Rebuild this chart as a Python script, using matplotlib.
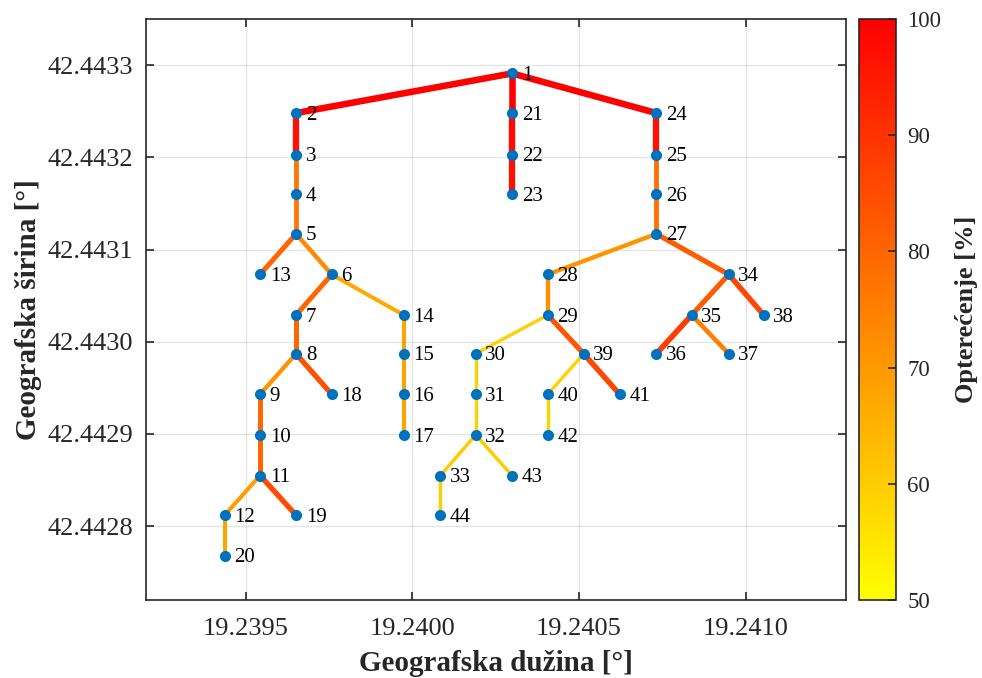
import numpy as np
import matplotlib
matplotlib.use("Agg")
import matplotlib.pyplot as plt
from matplotlib.ticker import FixedLocator, FormatStrFormatter
from matplotlib.colors import Normalize
from matplotlib.cm import ScalarMappable

plt.rcParams['font.family'] = ['Liberation Serif', 'DejaVu Serif']

# node coordinates (node id = index + 1)
node_lon = [19.240299, 19.239651, 19.239651, 19.239651, 19.239651, 19.239758, 19.239651,
            19.239651, 19.239543, 19.239543, 19.239543, 19.239437, 19.239543, 19.239974,
            19.239974, 19.239974, 19.239974, 19.239758, 19.239651, 19.239437, 19.240299,
            19.240299, 19.240299, 19.240732, 19.240732, 19.240732, 19.240732, 19.240406,
            19.240406, 19.240190, 19.240190, 19.240190, 19.240084, 19.240949, 19.240838,
            19.240732, 19.240949, 19.241054, 19.240514, 19.240406, 19.240622, 19.240406,
            19.240299, 19.240084]
node_lat = [42.443291, 42.443248, 42.443203, 42.443160, 42.443117, 42.443073, 42.443029,
            42.442987, 42.442943, 42.442899, 42.442855, 42.442812, 42.443073, 42.443029,
            42.442987, 42.442943, 42.442899, 42.442943, 42.442812, 42.442768, 42.443248,
            42.443203, 42.443160, 42.443248, 42.443203, 42.443160, 42.443117, 42.443073,
            42.443029, 42.442987, 42.442943, 42.442899, 42.442855, 42.443073, 42.443029,
            42.442987, 42.442987, 42.443029, 42.442987, 42.442943, 42.442943, 42.442899,
            42.442855, 42.442812]

# branches and their loading [%]
branch_from = [1, 2, 3, 4, 5, 5, 6, 6, 7, 8, 8, 9, 10, 11, 11, 12, 14, 15, 16,
               1, 21, 22, 1, 24, 25, 26, 27, 27, 28, 29, 29, 30, 31, 32, 32, 33,
               39, 39, 40, 34, 34, 35, 35]
branch_to = [2, 3, 4, 5, 13, 6, 7, 14, 8, 9, 18, 10, 11, 12, 19, 20, 15, 16, 17,
             21, 22, 23, 24, 25, 26, 27, 28, 34, 29, 30, 39, 31, 32, 33, 43, 44,
             40, 41, 42, 35, 38, 36, 37]
loading = [100, 97, 77, 77, 80, 73, 80, 67, 80, 71, 84, 80, 80, 69, 85, 68, 68, 68, 68,
           100, 98, 97, 100, 97, 78, 78, 71, 82, 72, 59, 83, 59, 59, 60, 60, 60,
           59, 86, 59, 82, 86, 88, 75]

cmap = plt.get_cmap("autumn_r")
norm = Normalize(vmin=50, vmax=100)

fig = plt.figure(figsize=(9.82, 6.78), dpi=100)
W, H = 982, 678
ax = fig.add_axes([145.7 / W, 1 - 600 / H, (845.7 - 145.7) / W, (600 - 19) / H])
cax = fig.add_axes([859.3 / W, 1 - 600 / H, (896.3 - 859.3) / W, (600 - 19) / H])

for a, b, v in zip(branch_from, branch_to, loading):
    ax.plot([node_lon[a - 1], node_lon[b - 1]], [node_lat[a - 1], node_lat[b - 1]],
            color=cmap(norm(v)), lw=0.056 * v - 0.9, solid_capstyle='butt', zorder=2)

ax.plot(node_lon, node_lat, 'o', color='#0072BD', markersize=8, markeredgewidth=0, zorder=3)

for i, (x, y) in enumerate(zip(node_lon, node_lat)):
    ax.annotate(str(i + 1), (x, y), xytext=(7, -1.5), textcoords='offset points',
                ha='left', va='center', fontsize=15, color='black', zorder=4)

ax.set_xlim(19.2392, 19.2413)
ax.set_ylim(42.44272, 42.44335)
ax.xaxis.set_major_locator(FixedLocator([19.2395, 19.2400, 19.2405, 19.2410]))
ax.yaxis.set_major_locator(FixedLocator([42.4428, 42.4429, 42.4430, 42.4431, 42.4432, 42.4433]))
ax.xaxis.set_major_formatter(FormatStrFormatter('%.4f'))
ax.yaxis.set_major_formatter(FormatStrFormatter('%.4f'))

dark = (0.15, 0.15, 0.15)
ax.tick_params(direction='in', length=5.5, width=1.2, top=True, right=True,
               labelsize=19, colors=dark, labelcolor=dark)
ax.tick_params(axis='x', pad=13)
ax.tick_params(axis='y', pad=9)
for s in ax.spines.values():
    s.set_color(dark)
    s.set_linewidth(1.2)
ax.grid(True, color=dark, alpha=0.12, lw=0.9)
ax.set_axisbelow(True)

ax.set_xlabel("Geografska dužina [°]", fontsize=21, fontweight='bold', color=dark, labelpad=7)
ax.set_ylabel("Geografska širina [°]", fontsize=21, fontweight='bold', color=dark, labelpad=4)

sm = ScalarMappable(norm=norm, cmap=cmap)
cb = fig.colorbar(sm, cax=cax, ticks=[50, 60, 70, 80, 90, 100])
cb.outline.set_edgecolor(dark)
cb.outline.set_linewidth(1.2)
cax.tick_params(direction='in', length=5.5, width=1.2, labelsize=16.5, colors=dark, pad=8)
cb.set_label("Opterećenje [%]", fontsize=19, fontweight='bold', color=dark, labelpad=10)

fig.savefig("out.png", dpi=100)
